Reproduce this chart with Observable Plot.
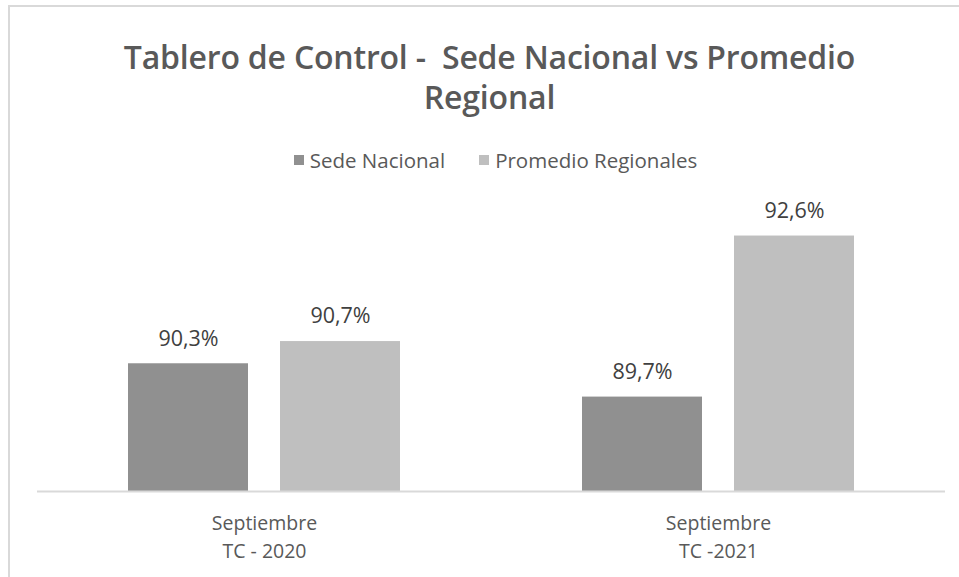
<!DOCTYPE html>
<html>
<head>
<meta charset="utf-8">
<script src="https://cdn.jsdelivr.net/npm/d3@7"></script>
<script src="https://cdn.jsdelivr.net/npm/@observablehq/plot@0.6"></script>
<style>
  html, body { margin: 0; padding: 0; background: #fff; }
  #wrap { position: relative; width: 959px; height: 577px; overflow: hidden; font-family: "Open Sans", sans-serif; }
  #frame { position: absolute; left: 8px; top: 5px; width: 960px; height: 580px; border-left: 2px solid #d9d9d9; border-top: 2px solid #d9d9d9; box-sizing: border-box; }
  #title { position: absolute; left: 0; width: 979px; top: 37px; text-align: center; font-size: 32px; font-weight: 600; line-height: 40px; color: #595959; letter-spacing: -0.2px; }
  #legend { position: absolute; left: 0; width: 991px; top: 148px; display: flex; justify-content: center; align-items: center; font-size: 20.5px; line-height: 24px; color: #595959; }
  .item { display: flex; align-items: center; margin: 0 17px; }
  .sw { width: 10px; height: 10px; margin-right: 6px; }
  #chart { position: absolute; left: 0; top: 0; }
</style>
</head>
<body>
<div id="wrap">
  <div id="frame"></div>
  <div id="title">Tablero de Control -&nbsp; Sede Nacional vs Promedio<br>Regional</div>
  <div id="legend"></div>
  <div id="chart"></div>
</div>
<script>
const categories = ["Septiembre\nTC - 2020", "Septiembre\nTC -2021"];
const series = ["Sede Nacional", "Promedio Regionales"];
const sedeNacional = [90.3, 89.7];
const promedioRegionales = [90.7, 92.6];
const colors = ["#909090", "#bfbfbf"];
const yMin = 88;
const yMax = 93.6;

const data = [];
categories.forEach((c, i) => {
  data.push({category: c, series: series[0], value: sedeNacional[i]});
  data.push({category: c, series: series[1], value: promedioRegionales[i]});
});

const fmt = v => v.toFixed(1).replace(".", ",") + "%";

const legend = document.getElementById("legend");
series.forEach((s, i) => {
  const it = document.createElement("div");
  it.className = "item";
  const sw = document.createElement("div");
  sw.className = "sw";
  sw.style.background = colors[i];
  const tx = document.createElement("span");
  tx.textContent = s;
  it.appendChild(sw); it.appendChild(tx);
  legend.appendChild(it);
});

const chart = Plot.plot({
  width: 959,
  height: 577,
  marginLeft: 36,
  marginRight: 14,
  marginTop: 180,
  marginBottom: 86,
  style: {fontFamily: "Open Sans, sans-serif", background: "transparent"},
  fx: {domain: categories, padding: 0, label: null},
  x: {domain: series, paddingInner: 0.2105, paddingOuter: 0.597, axis: null},
  y: {domain: [yMin, yMax], axis: null},
  color: {domain: series, range: colors},
  marks: [
    Plot.barY(data, {fx: "category", x: "series", y1: () => yMin, y2: "value", fill: "series"}),
    Plot.ruleY([yMin], {stroke: "#d9d9d9", strokeWidth: 2}),
    Plot.text(data, {fx: "category", x: "series", y: "value", text: d => fmt(d.value), dy: -25, fontSize: 21.5, fill: "#404040"}),
    Plot.axisFx({anchor: "bottom", tickSize: 0, tickPadding: 19, fontSize: 19.5, lineHeight: 1.43, fill: "#595959", label: null})
  ]
});
document.getElementById("chart").appendChild(chart);
</script>
</body>
</html>
